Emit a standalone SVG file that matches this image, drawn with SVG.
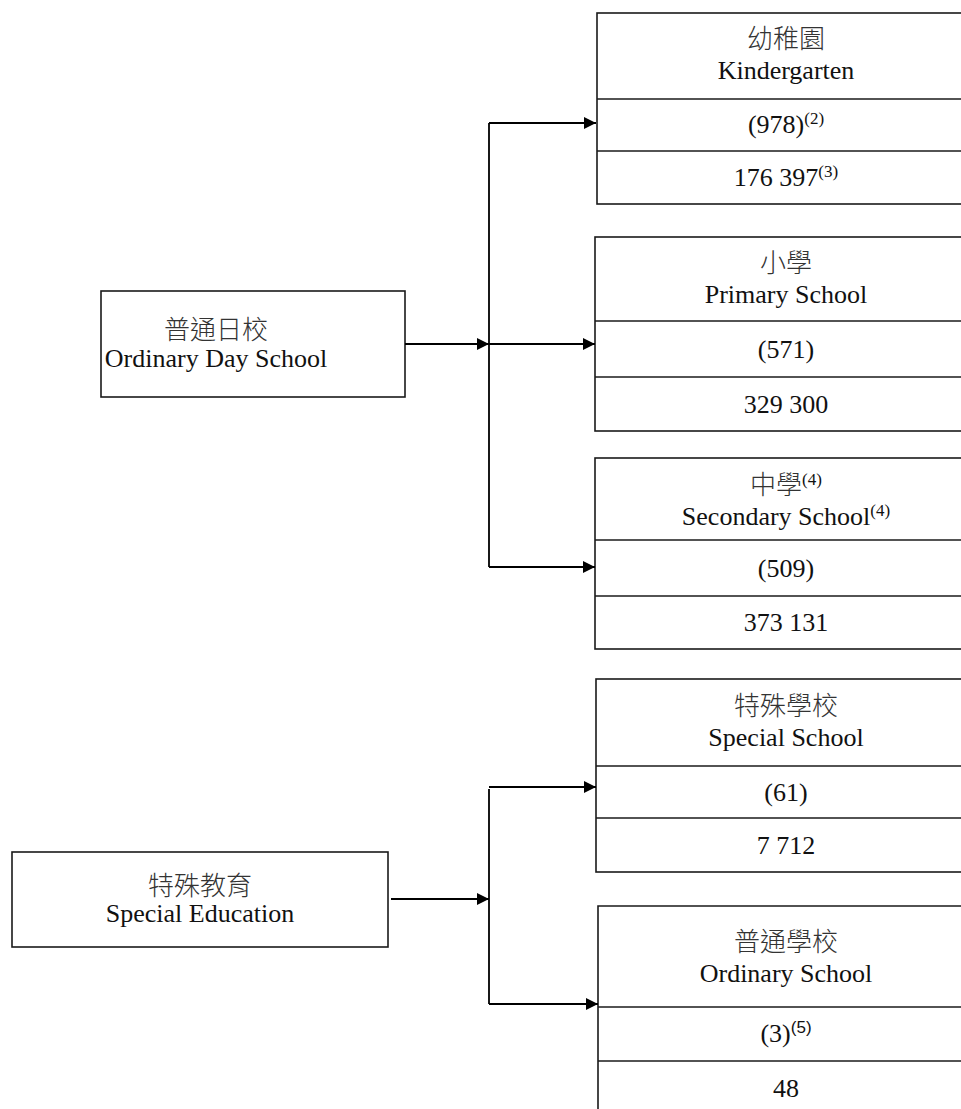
<svg xmlns="http://www.w3.org/2000/svg" width="961" height="1109" viewBox="0 0 961 1109">
<defs>
<style>
.box{fill:#fff;stroke:#1a1a1a;stroke-width:1.6}
.div{stroke:#1a1a1a;stroke-width:1.6;fill:none}
.t{font-family:"Liberation Serif","Noto Sans CJK TC",serif;font-size:26px;fill:#111;text-anchor:middle}
.cjk{font-family:"Noto Sans CJK TC","Noto Sans CJK SC",sans-serif;font-weight:300;fill:#333}
.sup{font-size:17px;font-family:"Liberation Serif",serif;fill:#111;font-weight:400}
.conn{stroke:#000;stroke-width:1.8;fill:none}
</style>
<marker id="ah" viewBox="0 0 12 12" refX="12" refY="6" markerWidth="12" markerHeight="12" markerUnits="userSpaceOnUse" orient="auto">
<path d="M0,0 L12,6 L0,12 Z" fill="#000"/>
</marker>
</defs>
<rect width="961" height="1109" fill="#fff"/>

<g id="ordinary-day-school">
<rect class="box" x="101" y="291" width="304" height="106"/>
<text class="t cjk" x="216" y="339">普通日校</text>
<text class="t" x="216" y="367">Ordinary Day School</text>
</g>

<g id="kindergarten">
<rect class="box" x="597" y="13" width="390" height="191"/>
<line class="div" x1="597" y1="99" x2="987" y2="99"/>
<line class="div" x1="597" y1="151" x2="987" y2="151"/>
<text class="t cjk" x="786" y="48">幼稚園</text>
<text class="t" x="786" y="79">Kindergarten</text>
<text class="t" x="786" y="133">(978)<tspan class="sup" dy="-9">(2)</tspan></text>
<text class="t" x="786" y="186">176 397<tspan class="sup" dy="-9">(3)</tspan></text>
</g>

<g id="primary-school">
<rect class="box" x="595" y="237" width="392" height="194"/>
<line class="div" x1="595" y1="321" x2="987" y2="321"/>
<line class="div" x1="595" y1="377" x2="987" y2="377"/>
<text class="t cjk" x="786" y="272">小學</text>
<text class="t" x="786" y="303">Primary School</text>
<text class="t" x="786" y="358">(571)</text>
<text class="t" x="786" y="413">329 300</text>
</g>

<g id="secondary-school">
<rect class="box" x="595" y="458" width="392" height="191"/>
<line class="div" x1="595" y1="540" x2="987" y2="540"/>
<line class="div" x1="595" y1="596" x2="987" y2="596"/>
<text class="t cjk" x="786" y="494">中學<tspan class="sup" dy="-9">(4)</tspan></text>
<text class="t" x="786" y="525">Secondary School<tspan class="sup" dy="-9">(4)</tspan></text>
<text class="t" x="786" y="577">(509)</text>
<text class="t" x="786" y="631">373 131</text>
</g>

<g id="special-education">
<rect class="box" x="12" y="852" width="376" height="95"/>
<text class="t cjk" x="200" y="895">特殊教育</text>
<text class="t" x="200" y="922">Special Education</text>
</g>

<g id="special-school">
<rect class="box" x="596" y="679" width="391" height="193"/>
<line class="div" x1="596" y1="766" x2="987" y2="766"/>
<line class="div" x1="596" y1="818" x2="987" y2="818"/>
<text class="t cjk" x="786" y="715">特殊學校</text>
<text class="t" x="786" y="746">Special School</text>
<text class="t" x="786" y="801">(61)</text>
<text class="t" x="786" y="854">7 712</text>
</g>

<g id="ordinary-school">
<path class="div" d="M987,906 H598 V1112"/>
<line class="div" x1="598" y1="1007" x2="987" y2="1007"/>
<line class="div" x1="598" y1="1061" x2="987" y2="1061"/>
<text class="t cjk" x="786" y="951">普通學校</text>
<text class="t" x="786" y="982">Ordinary School</text>
<text class="t" x="786" y="1042">(3)<tspan class="sup" dy="-9" style="font-family:'Liberation Sans',sans-serif">(5)</tspan></text>
<text class="t" x="786" y="1097">48</text>
</g>

<g id="connectors">
<line class="conn" x1="405" y1="344" x2="489" y2="344" marker-end="url(#ah)"/>
<line class="conn" x1="489" y1="123" x2="489" y2="567"/>
<line class="conn" x1="489" y1="123" x2="596" y2="123" marker-end="url(#ah)"/>
<line class="conn" x1="489" y1="344" x2="595" y2="344" marker-end="url(#ah)"/>
<line class="conn" x1="489" y1="567" x2="595" y2="567" marker-end="url(#ah)"/>
<line class="conn" x1="391" y1="899" x2="489" y2="899" marker-end="url(#ah)"/>
<line class="conn" x1="489" y1="789" x2="489" y2="1004"/>
<line class="conn" x1="489" y1="787" x2="596" y2="787" marker-end="url(#ah)"/>
<line class="conn" x1="489" y1="1004" x2="598" y2="1004" marker-end="url(#ah)"/>
</g>
</svg>
